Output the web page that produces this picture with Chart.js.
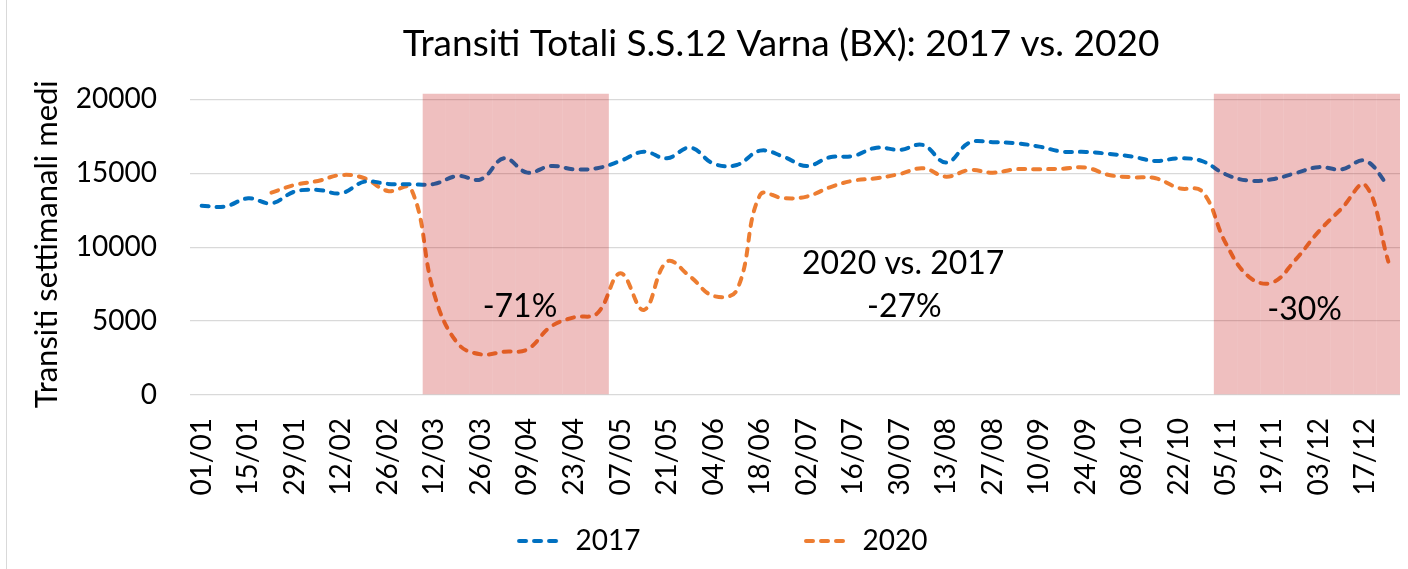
<!DOCTYPE html>
<html>
<head>
<meta charset="utf-8">
<script src="https://cdn.jsdelivr.net/npm/chart.js@4.4.1/dist/chart.umd.min.js"></script>
<style>
html,body{margin:0;padding:0;background:#fff;}
#wrap{position:relative;width:1408px;height:569px;}
canvas{display:block;}
#frame{position:absolute;left:6px;top:0;width:0;height:569px;border-left:1px solid #D9D9D9;}
</style>
</head>
<body>
<div id="wrap"><canvas id="c" width="1408" height="569"></canvas><div id="frame"></div></div>
<script>
// ---- data ----
const weeks = ['01/01','08/01','15/01','22/01','29/01','05/02','12/02','19/02','26/02','05/03',
  '12/03','19/03','26/03','02/04','09/04','16/04','23/04','30/04','07/05','14/05',
  '21/05','28/05','04/06','11/06','18/06','25/06','02/07','09/07','16/07','23/07',
  '30/07','06/08','13/08','20/08','27/08','03/09','10/09','17/09','24/09','01/10',
  '08/10','15/10','22/10','29/10','05/11','12/11','19/11','26/11','03/12','10/12',
  '17/12','24/12'];

const series2017 = [12800,12750,13300,12970,13760,13870,13650,14430,14280,14250,
  14280,14820,14590,16010,15040,15490,15270,15340,15830,16460,
  16010,16730,15650,15560,16530,16120,15490,16080,16170,16730,
  16580,16910,15720,17070,17100,17030,16800,16460,16440,16310,
  16120,15830,16010,15820,14930,14500,14590,15000,15410,15270,
  15850,14140];

const series2020 = [null,null,null,13690,14210,14480,14880,14660,13800,13950,
  6800,3500,2750,2930,3090,4620,5250,5520,8230,5750,
  9020,8000,6700,7100,13530,13310,13420,14050,14500,14660,
  14950,15340,14770,15220,15040,15270,15270,15310,15380,14880,
  14730,14660,13990,13760,10300,8000,7600,9130,11050,12630,
  14210,9020];

const lockdownShade = [null,null,null,null,null,null,null,null,null,null,
  20400,20400,20400,20400,20400,20400,20400,20400,null,null,
  null,null,null,null,null,null,null,null,null,null,
  null,null,null,null,null,null,null,null,null,null,
  null,null,null,null,20400,20400,20400,20400,20400,20400,
  20400,20400];

const yTickValues = [0, 5000, 10000, 15000, 20000];

const noteTexts = ['-71%', '2020 vs. 2017', '-27%', '-30%'];
const noteWeek  = [13.68, 30.15, 30.2, 47.4];
const noteValue = [5970, 8910, 5970, 5750];

// ---- helpers ----
function dashSwatch(color) {
  const cv = document.createElement('canvas');
  cv.width = 46; cv.height = 8;
  const g = cv.getContext('2d');
  g.strokeStyle = color; g.lineWidth = 4; g.lineCap = 'round';
  g.setLineDash([7, 8]);
  g.beginPath(); g.moveTo(3, 4); g.lineTo(46, 4); g.stroke();
  return cv;
}

const notesPlugin = {
  id: 'notes',
  afterDatasetsDraw(chart) {
    const {ctx, scales: {x, y}} = chart;
    ctx.save();
    ctx.font = '32px Lato';
    ctx.fillStyle = '#000';
    ctx.textAlign = 'center';
    ctx.textBaseline = 'middle';
    noteTexts.forEach((t, i) => {
      ctx.fillText(t, x.getPixelForValue(noteWeek[i]), y.getPixelForValue(noteValue[i]));
    });
    ctx.restore();
  }
};

const placeBoxes = {
  id: 'placeBoxes',
  afterLayout(chart) {
    const t = chart.titleBlock;
    if (t) { t.left += 76; t.right += 76; }
    const lg = chart.legend;
    if (lg) {
      lg.left += 17; lg.right += 17;
      lg.top = 541 - lg.options.labels.padding - 14;
    }
  }
};

Chart.defaults.font.family = 'Lato';
Chart.defaults.color = '#000';

new Chart(document.getElementById('c'), {
  data: {
    labels: weeks,
    datasets: [
      {
        type: 'bar', label: 'shade', data: lockdownShade,
        backgroundColor: 'rgba(192,0,0,0.25)', borderWidth: 0, inflateAmount: 0,
        barPercentage: 1, categoryPercentage: 1, order: 0
      },
      {
        type: 'line', label: '2017', data: series2017,
        borderColor: '#0070C0', backgroundColor: '#0070C0',
        borderWidth: 4, borderDash: [7, 8], borderCapStyle: 'round',
        pointRadius: 0, pointStyle: dashSwatch('#0070C0'),
        tension: 0.4, fill: false, order: 1
      },
      {
        type: 'line', label: '2020', data: series2020,
        borderColor: '#ED7D31', backgroundColor: '#ED7D31',
        borderWidth: 4, borderDash: [7, 8], borderCapStyle: 'round',
        pointRadius: 0, pointStyle: dashSwatch('#ED7D31'),
        tension: 0.4, fill: false, order: 2
      }
    ]
  },
  options: {
    responsive: false,
    animation: false,
    layout: { padding: { left: 10, right: 8, top: 0, bottom: 0 } },
    plugins: {
      tooltip: { enabled: false },
      title: {
        display: true,
        text: 'Transiti Totali S.S.12 Varna (BX): 2017 vs. 2020',
        font: { size: 37, weight: 'normal' },
        color: '#000',
        padding: { top: 22, bottom: 27 }
      },
      legend: {
        position: 'bottom',
        maxHeight: 64,
        labels: {
          font: { size: 28 },
          usePointStyle: true,
          pointStyleWidth: 45,
          padding: 163,
          filter: (item) => item.text !== 'shade'
        }
      }
    },
    scales: {
      x: {
        offset: true,
        grid: { display: false },
        border: { display: false },
        ticks: {
          autoSkip: false,
          minRotation: 90,
          maxRotation: 90,
          padding: 15,
          font: { size: 28 },
          callback: function(v, i) { return i % 2 === 0 ? this.getLabelForValue(v) : ''; }
        },
        afterFit: (s) => { s.height = 110; s.paddingLeft = 0; s.paddingRight = 0; }
      },
      y: {
        min: 0,
        max: 20400,
        grid: { color: '#D9D9D9', lineWidth: 1.3, drawTicks: false },
        border: { display: false },
        ticks: {
          stepSize: 5000,
          padding: 33,
          font: { size: 28 },
          callback: (v) => String(v)
        },
        afterBuildTicks: (s) => { s.ticks = yTickValues.map(v => ({ value: v })); },
        title: {
          display: true,
          text: 'Transiti settimanali medi',
          font: { size: 31 },
          color: '#000',
          padding: { top: 18, bottom: 0 }
        },
        afterFit: (s) => { s.width = 180; }
      }
    }
  },
  plugins: [notesPlugin, placeBoxes]
});
</script>
</body>
</html>
